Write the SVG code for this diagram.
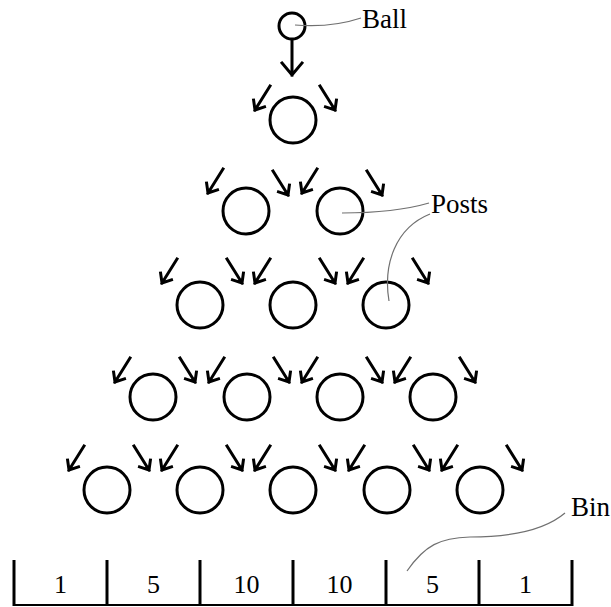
<svg xmlns="http://www.w3.org/2000/svg" xmlns:xlink="http://www.w3.org/1999/xlink" width="611" height="607" viewBox="0 0 611 607">
<style>
.post{fill:none;stroke:#000;stroke-width:3}
.arr{fill:none;stroke:#000;stroke-width:3;stroke-linecap:square;stroke-linejoin:miter}
.lead{fill:none;stroke:#707070;stroke-width:1.2}
.lbl{font-family:"Liberation Serif","Times New Roman",serif;font-size:27px;fill:#000}
.num{font-family:"Liberation Serif","Times New Roman",serif;font-size:26px;fill:#000;text-anchor:middle}
.bin{stroke:#000;stroke-width:3}
</style>
<defs>
<g id="aL"><path class="arr" d="M15,-24 L0,0 M9.5,-3.1 L0,0 L-1.4,-9.9"/></g>
<g id="aR"><path class="arr" d="M-15,-24 L0,0 M-9.5,-3.1 L0,0 L1.4,-9.9"/></g>
</defs>
<rect width="611" height="607" fill="#fff"/>
<g id="ball"><circle class="post" cx="292" cy="26" r="13"/></g>
<g id="posts">
<g id="p0-0"><circle class="post" cx="293" cy="120" r="23"/></g>
<g id="p1-0"><circle class="post" cx="246" cy="211" r="23"/></g>
<g id="p1-1"><circle class="post" cx="340" cy="211" r="23"/></g>
<g id="p2-0"><circle class="post" cx="200" cy="305" r="23"/></g>
<g id="p2-1"><circle class="post" cx="293" cy="305" r="23"/></g>
<g id="p2-2"><circle class="post" cx="386" cy="305" r="23"/></g>
<g id="p3-0"><circle class="post" cx="153" cy="397" r="23"/></g>
<g id="p3-1"><circle class="post" cx="247" cy="397" r="23"/></g>
<g id="p3-2"><circle class="post" cx="340" cy="397" r="23"/></g>
<g id="p3-3"><circle class="post" cx="433" cy="397" r="23"/></g>
<g id="p4-0"><circle class="post" cx="107" cy="490" r="23"/></g>
<g id="p4-1"><circle class="post" cx="200" cy="490" r="23"/></g>
<g id="p4-2"><circle class="post" cx="293" cy="490" r="23"/></g>
<g id="p4-3"><circle class="post" cx="387" cy="490" r="23"/></g>
<g id="p4-4"><circle class="post" cx="480" cy="490" r="23"/></g>
</g>
<g id="connectors">
<path class="arr" d="M292,40 L292,75 M282,63 L292,75 L302,63"/>
<use xlink:href="#aL" x="255" y="110"/><use xlink:href="#aR" x="335" y="110"/>
<use xlink:href="#aL" x="208" y="193"/><use xlink:href="#aR" x="288" y="195"/>
<use xlink:href="#aL" x="302" y="193"/><use xlink:href="#aR" x="382" y="195"/>
<use xlink:href="#aL" x="162" y="283"/><use xlink:href="#aR" x="242" y="283"/>
<use xlink:href="#aL" x="255" y="283"/><use xlink:href="#aR" x="335" y="283"/>
<use xlink:href="#aL" x="348" y="283"/><use xlink:href="#aR" x="428" y="283"/>
<use xlink:href="#aL" x="115" y="382"/><use xlink:href="#aR" x="195" y="382"/>
<use xlink:href="#aL" x="209" y="382"/><use xlink:href="#aR" x="289" y="382"/>
<use xlink:href="#aL" x="302" y="382"/><use xlink:href="#aR" x="382" y="382"/>
<use xlink:href="#aL" x="395" y="382"/><use xlink:href="#aR" x="475" y="382"/>
<use xlink:href="#aL" x="69" y="470"/><use xlink:href="#aR" x="149" y="470"/>
<use xlink:href="#aL" x="162" y="470"/><use xlink:href="#aR" x="242" y="470"/>
<use xlink:href="#aL" x="255" y="470"/><use xlink:href="#aR" x="335" y="470"/>
<use xlink:href="#aL" x="349" y="470"/><use xlink:href="#aR" x="429" y="470"/>
<use xlink:href="#aL" x="442" y="470"/><use xlink:href="#aR" x="522" y="470"/>
</g>
<g id="leaders">
<path class="lead" d="M295,25 C320,27 340,25 361,18"/>
<path class="lead" d="M342,213 C380,213 405,210 429,203"/>
<path class="lead" d="M430,214 C395,228 383,265 389,301"/>
<path class="lead" d="M407,571 C425,545 440,538 470,537 C510,537 545,530 565,513"/>
</g>
<g id="labels">
<text class="lbl" x="362" y="28">Ball</text>
<text class="lbl" x="431" y="213">Posts</text>
<text class="lbl" x="571" y="516">Bin</text>
</g>
<g id="bins">
<line class="bin" x1="14" y1="560" x2="14" y2="606"/>
<line class="bin" x1="107" y1="560" x2="107" y2="606"/>
<line class="bin" x1="200" y1="560" x2="200" y2="606"/>
<line class="bin" x1="293" y1="560" x2="293" y2="606"/>
<line class="bin" x1="386" y1="560" x2="386" y2="606"/>
<line class="bin" x1="479" y1="560" x2="479" y2="606"/>
<line class="bin" x1="572" y1="560" x2="572" y2="606"/>
<line x1="13" y1="605" x2="573" y2="605" stroke="#000" stroke-width="2"/>
<text class="num" x="60.5" y="593">1</text>
<text class="num" x="153.5" y="593">5</text>
<text class="num" x="246.5" y="593">10</text>
<text class="num" x="339.5" y="593">10</text>
<text class="num" x="432.5" y="593">5</text>
<text class="num" x="525.5" y="593">1</text>
</g>
</svg>
